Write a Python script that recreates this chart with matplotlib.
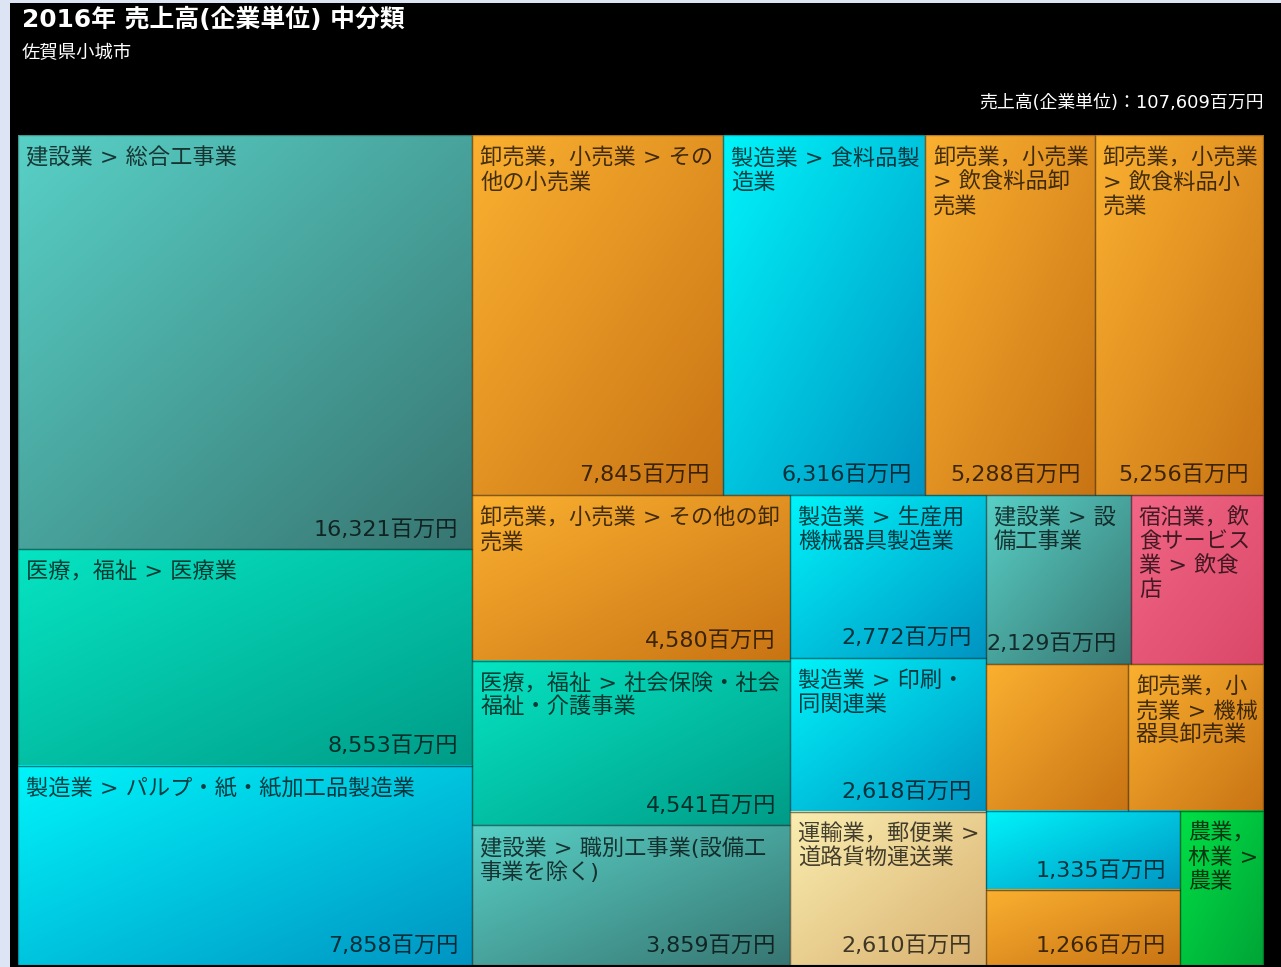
import numpy as np
import matplotlib
matplotlib.use("Agg")
import matplotlib.pyplot as plt
from matplotlib.patches import Rectangle
from matplotlib.font_manager import FontProperties
from matplotlib.colors import to_rgb

# ---------------- data ----------------
title = "2016年 売上高(企業単位) 中分類"
subtitle = "佐賀県小城市"
total_label = "売上高(企業単位)：107,609百万円"

majors = [
    "建設業", "医療，福祉", "製造業", "卸売業，小売業", "製造業",
    "卸売業，小売業", "卸売業，小売業", "卸売業，小売業", "医療，福祉", "建設業",
    "製造業", "製造業", "運輸業，郵便業", "建設業", "宿泊業，飲食サービス業",
    "卸売業，小売業", "卸売業，小売業", "製造業", "卸売業，小売業", "農業，林業",
]
minors = [
    "総合工事業", "医療業", "パルプ・紙・紙加工品製造業", "その他の小売業", "食料品製造業",
    "飲食料品卸売業", "飲食料品小売業", "その他の卸売業", "社会保険・社会福祉・介護事業",
    "職別工事業(設備工事業を除く)",
    "生産用機械器具製造業", "印刷・同関連業", "道路貨物運送業", "設備工事業", "飲食店",
    "", "機械器具卸売業", "", "", "農業",
]
values = [16321, 8553, 7858, 7845, 6316,
          5288, 5256, 4580, 4541, 3859,
          2772, 2618, 2610, 2129, 1938,
          1813, 1724, 1335, 1266, 1118]
value_shown = [True, True, True, True, True,
               True, True, True, True, True,
               True, True, True, True, False,
               False, False, True, True, False]

colors = {
    "建設業": ("#58d0c6", "#387672"),
    "医療，福祉": ("#06e4c2", "#009c88"),
    "製造業": ("#00f4fa", "#0094c2"),
    "卸売業，小売業": ("#fbb030", "#c87414"),
    "宿泊業，飲食サービス業": ("#f26686", "#da4868"),
    "運輸業，郵便業": ("#faeeb0", "#d8b070"),
    "農業，林業": ("#00e046", "#00a436"),
}

# ---------------- figure ----------------
W, H = 1281, 967
fig = plt.figure(figsize=(W / 100, H / 100), dpi=100)
fig.patch.set_facecolor("#dde4f4")
ax = fig.add_axes([0, 0, 1, 1])
ax.set_xlim(0, W)
ax.set_ylim(H, 0)
ax.axis("off")
ax.add_patch(Rectangle((10, 3), W - 10, H - 3, facecolor="black", edgecolor="none", zorder=0))

font_list = ["DejaVu Sans", "Noto Sans CJK JP"]
plt.rcParams["font.family"] = font_list

ax.text(22, 27, title, fontsize=17.9, fontweight="bold", color="white",
        family=font_list, va="baseline", ha="left")
ax.text(22, 58, subtitle, fontsize=13.2, color="white",
        family=font_list, va="baseline", ha="left")
ax.text(1264, 108, total_label, fontsize=12.9, color="white",
        family=font_list, va="baseline", ha="right")

# ---------------- squarified layout (golden ratio, d3 style) ----------------
def squarify(vals, x0, y0, x1, y1, ratio=(1 + 5 ** 0.5) / 2):
    rects = [None] * len(vals)
    value = float(sum(vals))
    n = len(vals)
    i0 = 0
    while i0 < n:
        dx, dy = x1 - x0, y1 - y0
        i1 = i0
        s = vals[i1]
        i1 += 1
        mn = mx = s
        alpha = max(dy / dx, dx / dy) / (value * ratio)
        beta = s * s * alpha
        min_ratio = max(mx / beta, beta / mn)
        while i1 < n:
            nv = vals[i1]
            s2 = s + nv
            mn2, mx2 = min(mn, nv), max(mx, nv)
            beta = s2 * s2 * alpha
            nr = max(mx2 / beta, beta / mn2)
            if nr > min_ratio:
                break
            s, mn, mx, min_ratio = s2, mn2, mx2, nr
            i1 += 1
        row = vals[i0:i1]
        if dx < dy:
            h = dy * s / value
            xx = x0
            for k, v in enumerate(row):
                w = dx * v / s
                rects[i0 + k] = (xx, y0, xx + w, y0 + h)
                xx += w
            y0 += h
        else:
            w = dx * s / value
            yy = y0
            for k, v in enumerate(row):
                h = dy * v / s
                rects[i0 + k] = (x0, yy, x0 + w, yy + h)
                yy += h
            x0 += w
        value -= s
        i0 = i1
    return rects

TX0, TY0, TX1, TY1 = 18, 135, 1263, 965
rects = squarify(values, TX0, TY0, TX1, TY1)

# ---------------- text wrapping ----------------
renderer = fig.canvas.get_renderer()
LABEL_SIZE = 16
fp = FontProperties(family=font_list, size=LABEL_SIZE)


def text_w(s):
    w, h, d = renderer.get_text_width_height_descent(s, fp, ismath=False)
    return w


def tokenize(s):
    toks = []
    buf = ""
    for ch in s:
        if ch == " ":
            if buf:
                toks.append(buf)
                buf = ""
            toks.append(" ")
        elif ord(ch) < 0x2000:
            buf += ch
        else:
            if buf:
                toks.append(buf)
                buf = ""
            toks.append(ch)
    if buf:
        toks.append(buf)
    merged = []
    pending_open = ""
    for t in toks:
        if t == "(":
            pending_open += t
            continue
        if pending_open:
            t = pending_open + t
            pending_open = ""
        if merged and t != " " and t[0] in "，、。)）" and merged[-1] != " ":
            merged[-1] += t
        else:
            merged.append(t)
    return merged


def wrap(s, avail):
    lines = []
    cur = ""
    for t in tokenize(s):
        if t == " ":
            if cur:
                cur += " "
            continue
        cand = cur + t
        if cur.strip() and text_w(cand) > avail:
            lines.append(cur.rstrip())
            cur = t
        else:
            cur = cand
    if cur.strip():
        lines.append(cur.rstrip())
    return lines


def gradient(c0, c1, n=64):
    a = np.array(to_rgb(c0))
    b = np.array(to_rgb(c1))
    u = np.linspace(0, 1, n)
    t = (u[None, :] + u[:, None]) / 2.0
    return a[None, None, :] * (1 - t[..., None]) + b[None, None, :] * t[..., None]


text_color = (0, 0, 0, 0.72)
PAD = 12.25

for i, (x0, y0, x1, y1) in enumerate(rects):
    c0, c1 = colors[majors[i]]
    ax.imshow(gradient(c0, c1), extent=(x0, x1, y1, y0), origin="upper",
              interpolation="bilinear", aspect="auto", zorder=1)
    ax.add_patch(Rectangle((x0, y0), x1 - x0, y1 - y0, fill=False,
                           edgecolor=(0, 0, 0, 0.28), linewidth=1.0, zorder=2))
    if minors[i]:
        name = f"{majors[i]} > {minors[i]}"
        lines = wrap(name, (x1 - x0) - PAD)
        for k, line in enumerate(lines):
            ax.text(x0 + 8, y0 + 29.5 + 24 * k, line, fontproperties=fp,
                    color=text_color, va="baseline", ha="left", zorder=3)
    if value_shown[i]:
        ax.text(x1 - 14, y1 - 13.5, f"{values[i]:,}百万円", fontproperties=fp,
                color=text_color, va="baseline", ha="right", zorder=3)

ax.set_xlim(0, W)
ax.set_ylim(H, 0)
fig.savefig("out.png", dpi=100, facecolor=fig.get_facecolor())
